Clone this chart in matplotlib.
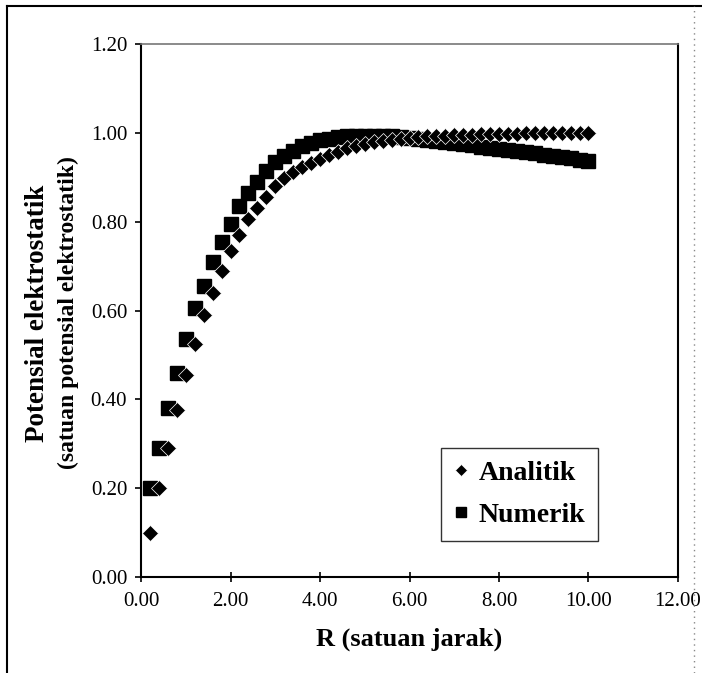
import matplotlib
matplotlib.use("Agg")
import matplotlib.pyplot as plt
from matplotlib.lines import Line2D
from matplotlib.ticker import FormatStrFormatter

plt.rcParams['font.family'] = ['Liberation Serif', 'DejaVu Serif']

# R values (satuan jarak)
r_vals = [0.2, 0.4, 0.6, 0.8, 1.0, 1.2, 1.4, 1.6, 1.8, 2.0,
          2.2, 2.4, 2.6, 2.8, 3.0, 3.2, 3.4, 3.6, 3.8, 4.0,
          4.2, 4.4, 4.6, 4.8, 5.0, 5.2, 5.4, 5.6, 5.8, 6.0,
          6.2, 6.4, 6.6, 6.8, 7.0, 7.2, 7.4, 7.6, 7.8, 8.0,
          8.2, 8.4, 8.6, 8.8, 9.0, 9.2, 9.4, 9.6, 9.8, 10.0]

analitik = [0.10, 0.20, 0.29, 0.375, 0.455, 0.525, 0.59, 0.64, 0.69, 0.735,
            0.77, 0.805, 0.83, 0.855, 0.88, 0.898, 0.912, 0.923, 0.933, 0.942,
            0.95, 0.958, 0.965, 0.97, 0.975, 0.979, 0.982, 0.985, 0.987, 0.989,
            0.991, 0.992, 0.993, 0.994, 0.995, 0.996, 0.996, 0.997, 0.997, 0.998,
            0.998, 0.998, 0.999, 0.999, 0.999, 0.999, 0.999, 1.0, 1.0, 1.0]

numerik = [0.20, 0.29, 0.38, 0.46, 0.535, 0.605, 0.655, 0.71, 0.755, 0.795,
           0.835, 0.865, 0.89, 0.915, 0.935, 0.948, 0.96, 0.97, 0.978, 0.983,
           0.987, 0.99, 0.992, 0.993, 0.994, 0.994, 0.993, 0.992, 0.99, 0.988,
           0.986, 0.984, 0.982, 0.979, 0.977, 0.974, 0.972, 0.969, 0.967, 0.964,
           0.962, 0.959, 0.957, 0.954, 0.951, 0.949, 0.946, 0.943, 0.940, 0.937]

x_ticks = [0, 2, 4, 6, 8, 10, 12]
y_ticks = [0.0, 0.2, 0.4, 0.6, 0.8, 1.0, 1.2]

fig = plt.figure(figsize=(7.02, 6.73), dpi=100)
ax = fig.add_axes([0.2009, 0.1426, 0.7649, 0.792])

ax.plot(r_vals, numerik, linestyle='none', marker='s', markersize=10,
        color='black', markeredgecolor='black', label='Numerik', zorder=3)
ax.plot(r_vals, analitik, linestyle='none', marker='D', markersize=8.5,
        color='black', markeredgecolor='white', markeredgewidth=0.5,
        label='Analitik', zorder=4)

ax.set_xlim(0, 12)
ax.set_ylim(0, 1.2)
ax.set_xticks(x_ticks)
ax.set_yticks(y_ticks)
ax.xaxis.set_major_formatter(FormatStrFormatter('%.2f'))
ax.yaxis.set_major_formatter(FormatStrFormatter('%.2f'))
ax.tick_params(axis='x', direction='inout', length=7, width=1.2, pad=7, labelsize=15)
ax.tick_params(axis='y', direction='out', length=4, width=1.2, pad=6, labelsize=15)

for side in ['left', 'bottom', 'right']:
    ax.spines[side].set_linewidth(1.5)
    ax.spines[side].set_color('black')
ax.spines['top'].set_color('#777777')
ax.spines['top'].set_linestyle((0, (1, 1)))
ax.spines['top'].set_linewidth(1.2)

ax.set_xlabel('R (satuan jarak)', fontsize=19, fontweight='bold', labelpad=12)

# two-line y label, first line a bit larger as in the original
fig.text(0.054, 0.535, 'Potensial elektrostatik', rotation=90, fontsize=19.5,
         fontweight='bold', ha='center', va='center')
fig.text(0.097, 0.535, '(satuan potensial elektrostatik)', rotation=90,
         fontsize=17, fontweight='bold', ha='center', va='center')

handles, labels = ax.get_legend_handles_labels()
leg = ax.legend(handles[::-1], labels[::-1], loc='upper left',
                bbox_to_anchor=(0.559, 0.242),
                prop={'weight': 'bold', 'size': 20},
                frameon=True, fancybox=False, edgecolor='black',
                handlelength=0.5, handletextpad=0.4, borderpad=0.45,
                labelspacing=0.6, markerscale=0.75, borderaxespad=0)
leg.get_frame().set_linewidth(1.0)

# outer frame of the chart area
fig.add_artist(Line2D([0.010, 0.010], [0.0, 0.991], color='black', lw=1.5,
                      transform=fig.transFigure))
fig.add_artist(Line2D([0.010, 1.0], [0.991, 0.991], color='black', lw=1.5,
                      transform=fig.transFigure))
fig.add_artist(Line2D([0.988, 0.988], [0.0, 0.991], color='#888888', lw=1.0,
                      linestyle=(0, (1, 3)), transform=fig.transFigure))

fig.savefig('out.png', dpi=100)
